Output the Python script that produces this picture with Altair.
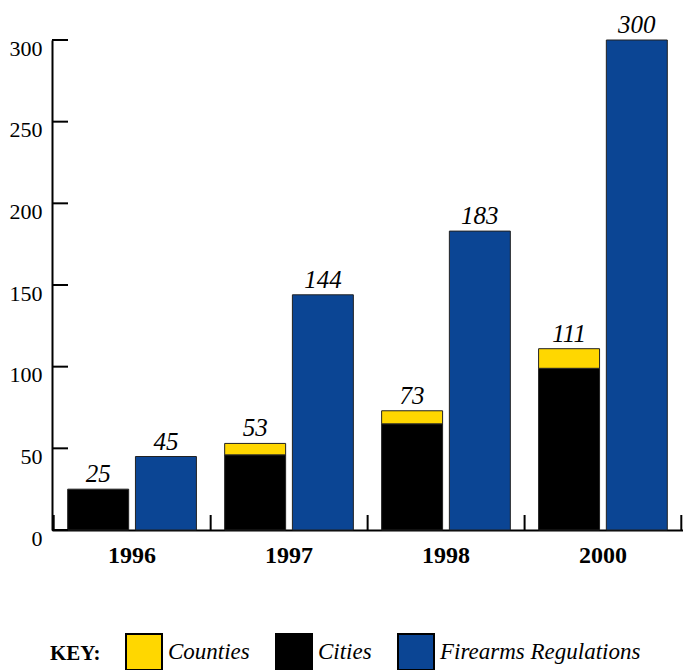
import altair as alt
import pandas as pd

# ---- data ----
years = ["1996", "1997", "1998", "2000"]
cities = [25, 46, 65, 99]
counties = [0, 7, 8, 12]
firearms = [45, 144, 183, 300]
categories = ["Counties", "Cities", "Firearms Regulations"]
colors = ["#FFD700", "#000000", "#0B4594"]
y_ticks = [0, 50, 100, 150, 200, 250, 300]

rows = []
label_rows = []
for i, yr in enumerate(years):
    rows.append(dict(year=yr, group="Local", category="Cities", value=cities[i], order=0))
    if counties[i] > 0:
        rows.append(dict(year=yr, group="Local", category="Counties", value=counties[i], order=1))
    rows.append(dict(year=yr, group="Firearms", category="Firearms Regulations", value=firearms[i], order=0))
    label_rows.append(dict(year=yr, group="Local", total=cities[i] + counties[i]))
    label_rows.append(dict(year=yr, group="Firearms", total=firearms[i]))
bars_df = pd.DataFrame(rows)
labels_df = pd.DataFrame(label_rows)
years_df = pd.DataFrame({"year": years})
last_df = pd.DataFrame({"year": [years[-1]]})
yticks_df = pd.DataFrame({"value": y_ticks})

W, H = 631, 490
SERIF = "Liberation Serif"

x_scale = alt.Scale(paddingInner=0.18, paddingOuter=0.1)
xo_scale = alt.Scale(paddingInner=0.1, paddingOuter=0)
y_scale = alt.Scale(domain=[0, 300], nice=False)

x_axis = alt.Axis(title=None, labelAngle=0, labelFont=SERIF, labelFontWeight="bold",
                  labelFontSize=24, labelColor="black", tickSize=0, labelPadding=13,
                  domainColor="black", domainWidth=2)
y_axis = alt.Axis(title=None, values=y_ticks, labelFont=SERIF, labelFontSize=22,
                  labelColor="black", tickSize=0, labelPadding=10, grid=False,
                  labelBaseline="middle", labelOffset=8,
                  domainColor="black", domainWidth=2)

legend = alt.Legend(title="KEY:", orient="none", legendX=-2, legendY=593,
                    direction="horizontal", titleOrient="left",
                    titleFont=SERIF, titleFontSize=21, titleFontWeight="bold",
                    titleColor="black", titlePadding=24,
                    labelFont=SERIF, labelFontStyle="italic", labelFontSize=23,
                    labelColor="black", labelOffset=5, columnPadding=22, labelLimit=400,
                    symbolType="square", symbolSize=1296, symbolStrokeColor="black",
                    symbolStrokeWidth=2, symbolOpacity=1)

bars = alt.Chart(bars_df).mark_bar(stroke="#222222", strokeWidth=1).encode(
    x=alt.X("year:N", sort=years, scale=x_scale, axis=x_axis),
    xOffset=alt.XOffset("group:N", sort=["Local", "Firearms"], scale=xo_scale),
    y=alt.Y("value:Q", stack="zero", scale=y_scale, axis=y_axis),
    color=alt.Color("category:N", scale=alt.Scale(domain=categories, range=colors), legend=legend),
    order=alt.Order("order:Q"),
)

labels = alt.Chart(labels_df).mark_text(font=SERIF, fontStyle="italic", fontSize=25,
                                        dy=-7, baseline="alphabetic", color="black").encode(
    x=alt.X("year:N", sort=years, axis=x_axis),
    xOffset=alt.XOffset("group:N", sort=["Local", "Firearms"]),
    y=alt.Y("total:Q", axis=y_axis),
    text=alt.Text("total:Q"),
)

y_tick_rules = alt.Chart(yticks_df).mark_rule(color="black", strokeWidth=2).encode(
    y=alt.Y("value:Q", axis=y_axis),
    x=alt.value(0),
    x2=alt.value(16),
)

x_tick_rules = alt.Chart(years_df).mark_rule(color="black", strokeWidth=2, xOffset=-14).encode(
    x=alt.X("year:N", sort=years, bandPosition=0, axis=x_axis),
    y=alt.value(H),
    y2=alt.value(H - 15),
)

x_tick_last = alt.Chart(last_df).mark_rule(color="black", strokeWidth=2, xOffset=14).encode(
    x=alt.X("year:N", sort=years, bandPosition=1, axis=x_axis),
    y=alt.value(H),
    y2=alt.value(H - 15),
)

chart = alt.layer(bars, labels, y_tick_rules, x_tick_rules, x_tick_last).properties(
    width=W, height=H,
    padding={"left": 44, "top": 32, "right": 0, "bottom": 140},
    autosize=alt.AutoSizeParams(type="none"),
).configure_view(stroke=None)

chart.save("out.html", embed_options={"renderer": "svg", "actions": False})
